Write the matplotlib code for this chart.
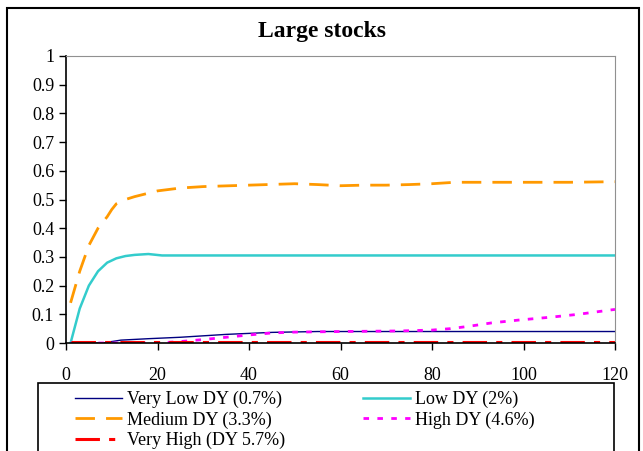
import matplotlib
matplotlib.use("Agg")
import matplotlib.pyplot as plt
from matplotlib.patches import Rectangle

plt.rcParams['font.family'] = ['Liberation Serif', 'DejaVu Serif']

title = "Large stocks"
labels = ["Very Low DY (0.7%)", "Low DY (2%)", "Medium DY (3.3%)", "High DY (4.6%)", "Very High (DY 5.7%)"]

x_vlow = [1, 8, 12, 18, 25, 35, 45, 55, 120]
y_vlow = [0.0, 0.0, 0.01, 0.015, 0.02, 0.03, 0.037, 0.04, 0.04]

x_low = [1, 3, 5, 7, 9, 11, 13, 15, 18, 21, 120]
y_low = [0.0, 0.12, 0.2, 0.25, 0.28, 0.295, 0.303, 0.307, 0.31, 0.305, 0.305]

x_med = [1, 3, 5, 7, 9, 10, 11, 13, 15, 18, 20, 25, 30, 40, 50, 55, 60, 65, 70, 75, 80, 85, 90, 100, 110, 120]
y_med = [0.14, 0.25, 0.34, 0.40, 0.44, 0.465, 0.485, 0.50, 0.51, 0.522, 0.53, 0.54, 0.545, 0.55, 0.555, 0.552, 0.548, 0.55, 0.55, 0.552, 0.555, 0.56, 0.56, 0.56, 0.56, 0.562]

x_high = [1, 20, 25, 30, 35, 40, 45, 50, 60, 73, 80, 84, 88, 93, 99, 106, 112, 119, 120]
y_high = [0.0, 0.0, 0.005, 0.012, 0.02, 0.028, 0.035, 0.038, 0.04, 0.042, 0.045, 0.05, 0.058, 0.07, 0.08, 0.09, 0.1, 0.115, 0.117]

x_vhigh = [1, 120]
y_vhigh = [0.002, 0.002]

xticks = [0, 20, 40, 60, 80, 100, 120]
yticks = [0, 0.1, 0.2, 0.3, 0.4, 0.5, 0.6, 0.7, 0.8, 0.9, 1]
ytick_labels = ["0", "0.1", "0.2", "0.3", "0.4", "0.5", "0.6", "0.7", "0.8", "0.9", "1"]

W, H = 643, 451
fig = plt.figure(figsize=(W/100, H/100), dpi=100)
ax = fig.add_axes([66/W, 1-343/H, (615-66)/W, (343-56)/H])

l_vlow, = ax.plot(x_vlow, y_vlow, color='#000080', lw=1.0, label=labels[0])
l_low, = ax.plot(x_low, y_low, color='#33CCCC', lw=1.8, label=labels[1])
l_med, = ax.plot(x_med, y_med, color='#FF9900', lw=2.0, dashes=(7, 4), label=labels[2])
l_high, = ax.plot(x_high, y_high, color='#FF00FF', lw=2.0, dashes=(2, 3), label=labels[3])
l_vhigh, = ax.plot(x_vhigh, y_vhigh, color='#FF0000', lw=2.2, dashes=(8, 3, 2, 3), label=labels[4])

ax.set_xlim(0, 120)
ax.set_ylim(0, 1)
ax.set_xticks(xticks)
ax.set_yticks(yticks)
ax.set_yticklabels(ytick_labels)
ax.tick_params(axis='both', direction='out', length=5, width=1, labelsize=13, colors='black')
ax.tick_params(axis='x', pad=12)
for s in ['top', 'right']:
    ax.spines[s].set_color('#909090')
for s in ['left', 'bottom']:
    ax.spines[s].set_color('black')
    ax.spines[s].set_linewidth(1.2)

fig.text(0.5, 1-32/H, title, ha='center', va='center', fontsize=17, fontweight='bold')

# outer chart frame
fig.patches.append(Rectangle((7/W, -0.1), (639-7)/W, 1-8/H+0.1, transform=fig.transFigure,
                             fill=False, edgecolor='black', lw=1.5))
# legend frame
fig.patches.append(Rectangle((38/W, -0.1), (614-38)/W, 1-383/H+0.1, transform=fig.transFigure,
                             fill=False, edgecolor='black', lw=1.2))

leg = fig.legend([l_vlow, l_med, l_vhigh, l_low, l_high],
                 [labels[0], labels[2], labels[4], labels[1], labels[3]],
                 loc='upper left', bbox_to_anchor=(75/W, 1-391/H),
                 ncol=2, fontsize=13, frameon=False, borderaxespad=0, borderpad=0,
                 handlelength=2.6, handletextpad=0.3, columnspacing=4.3,
                 labelspacing=0.18)

fig.savefig('out.png', dpi=100)
